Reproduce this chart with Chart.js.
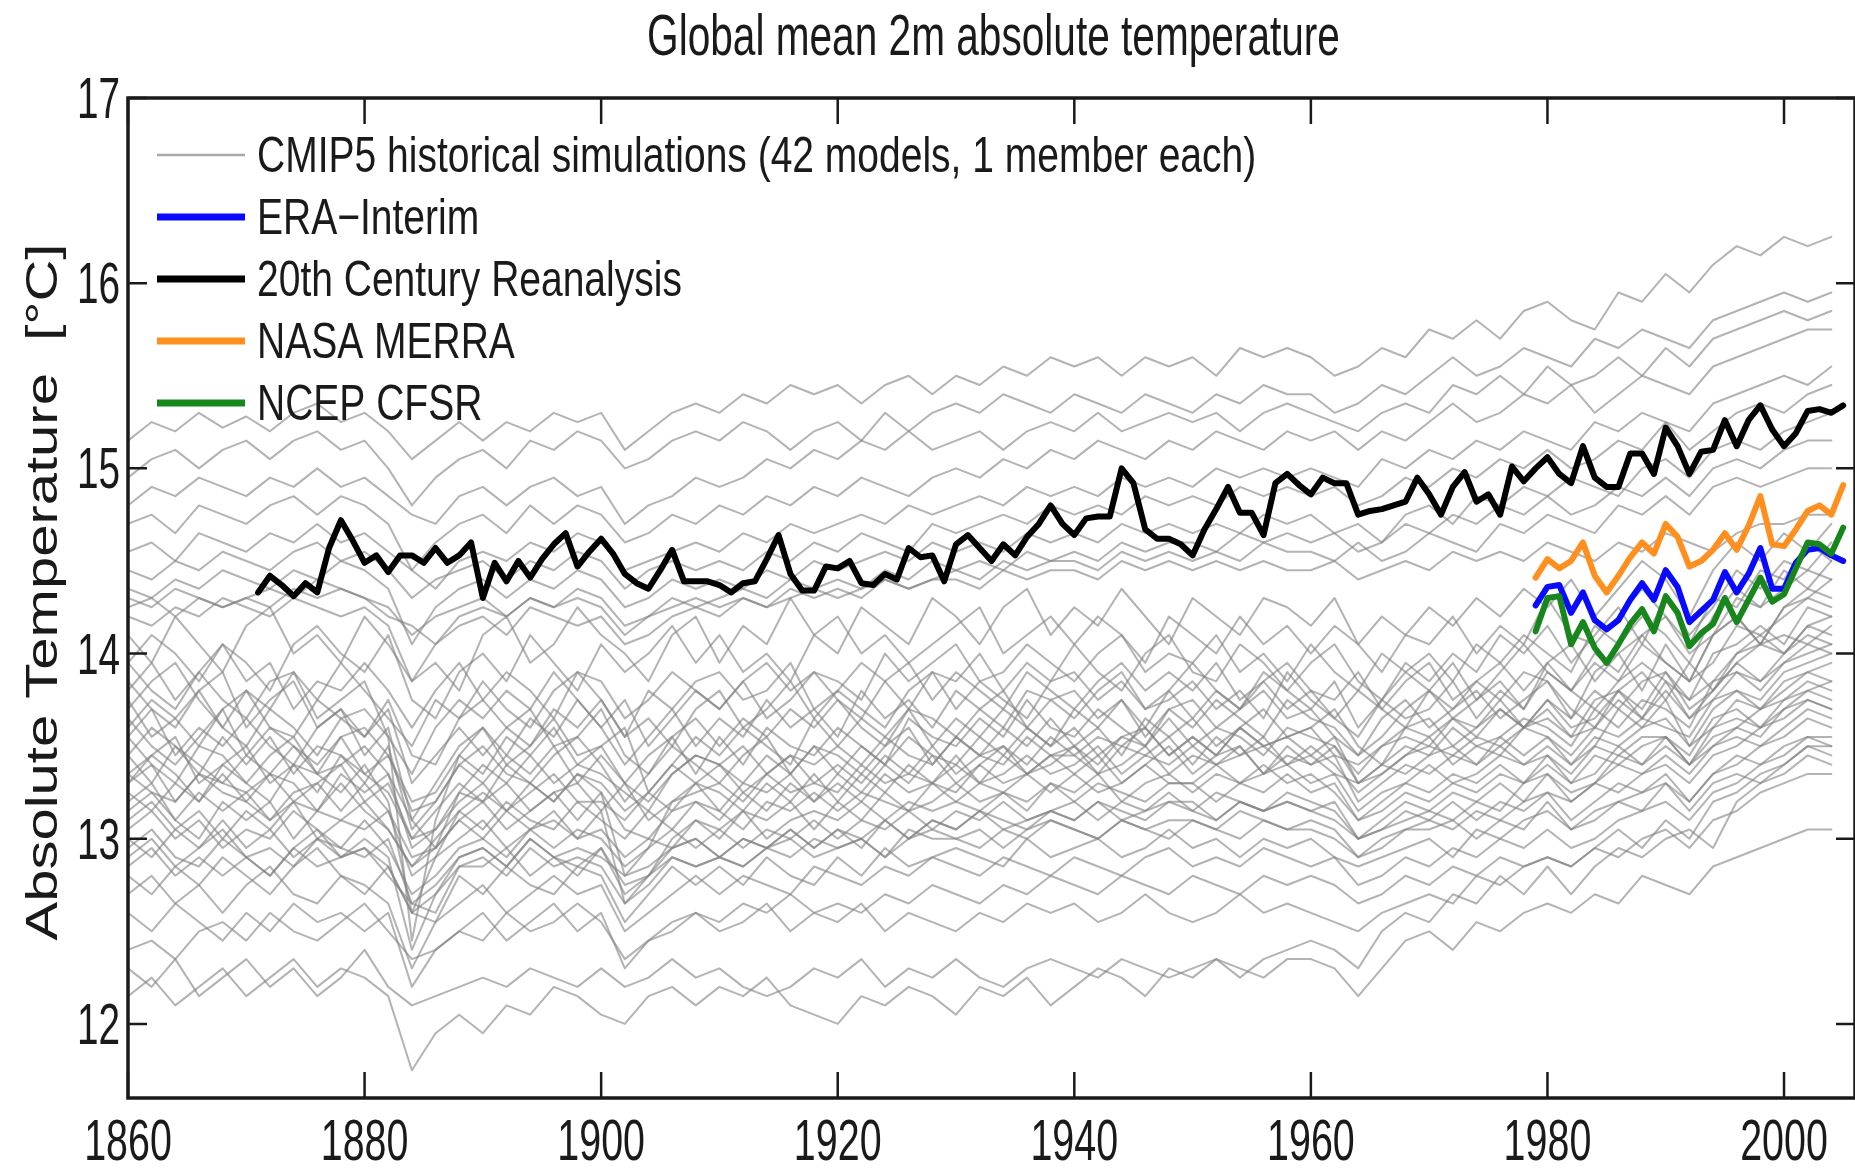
<!DOCTYPE html>
<html>
<head>
<meta charset="utf-8">
<title>Global mean 2m absolute temperature</title>
<script src="https://cdn.jsdelivr.net/npm/chart.js"></script>
<style>
  html, body { margin: 0; padding: 0; background: #ffffff; }
  #wrap { width: 1855px; height: 1169px; }
</style>
</head>
<body>
<div id="wrap"><canvas id="tempChart" width="1855" height="1169"></canvas></div>
<script>
// ---- years -------------------------------------------------------------
function yearRange(first, last, step) {
    const out = [];
    for (let y = first; y <= last; y += step) out.push(y);
    return out;
}
const cmipYears = yearRange(1860, 2004, 2);   // model runs, every other year
const twcrYears = yearRange(1871, 2005, 1);   // 20th Century Reanalysis
const satYears = yearRange(1979, 2005, 1);    // satellite-era reanalyses

// ---- reanalyses (deg C) ------------------------------------------------
const twcr = [
    14.33, 14.42, 14.37, 14.31, 14.38, 14.33, 14.57, 14.72, 14.61, 14.49,
    14.53, 14.44, 14.53, 14.53, 14.49, 14.57, 14.49, 14.53, 14.60, 14.30,
    14.49, 14.39, 14.50, 14.41, 14.51, 14.59, 14.65, 14.47, 14.55, 14.62,
    14.54, 14.43, 14.38, 14.35, 14.45, 14.56, 14.39, 14.39, 14.39, 14.37,
    14.33, 14.38, 14.39, 14.51, 14.64, 14.43, 14.34, 14.34, 14.47, 14.46,
    14.50, 14.38, 14.37, 14.43, 14.40, 14.57, 14.52, 14.53, 14.39, 14.59,
    14.64, 14.57, 14.50, 14.59, 14.53, 14.63, 14.70, 14.80, 14.70, 14.64,
    14.73, 14.74, 14.74, 15.00, 14.92, 14.67, 14.62, 14.62, 14.59, 14.53,
    14.67, 14.78, 14.90, 14.76, 14.76, 14.64, 14.92, 14.97, 14.91, 14.86,
    14.95, 14.92, 14.92, 14.75, 14.77, 14.78, 14.80, 14.82, 14.95, 14.86,
    14.75, 14.90, 14.98, 14.82, 14.86, 14.75, 15.01, 14.93, 15.00, 15.06,
    14.97, 14.92, 15.12, 14.95, 14.90, 14.90, 15.08, 15.08, 14.97, 15.22,
    15.12, 14.97, 15.09, 15.10, 15.26, 15.12, 15.26, 15.34, 15.21, 15.12,
    15.19, 15.31, 15.32, 15.30, 15.34
];
const merra = [
    14.41, 14.51, 14.46, 14.50, 14.60, 14.42, 14.33, 14.42, 14.52, 14.60,
    14.54, 14.70, 14.63, 14.47, 14.50, 14.56, 14.65, 14.56, 14.69, 14.85,
    14.59, 14.58, 14.67, 14.77, 14.80, 14.75, 14.91
];
const eraInterim = [
    14.26, 14.36, 14.37, 14.22, 14.33, 14.18, 14.13, 14.18, 14.29, 14.38,
    14.29, 14.45, 14.36, 14.17, 14.23, 14.29, 14.44, 14.33, 14.43, 14.57,
    14.35, 14.35, 14.49, 14.56, 14.57, 14.53, 14.50
];
const cfsr = [
    14.12, 14.30, 14.31, 14.05, 14.17, 14.03, 13.95, 14.05, 14.16, 14.24,
    14.12, 14.31, 14.22, 14.04, 14.11, 14.16, 14.30, 14.17, 14.29, 14.41,
    14.28, 14.32, 14.46, 14.60, 14.59, 14.54, 14.68
];

// ---- CMIP5 historical runs (deg C, 1860-2004 every 2 years) -------------
const cmip01 = [15.15,15.25,15.2,15.3,15.22, 15.28,15.2,15.3,15.35,15.25, 15.3,15.2,15.05,15.15,15.25, 15.15,15.25,15.2,15.3,15.25, 15.3,15.1,15.2,15.3,15.35,
    15.3,15.4,15.35,15.45,15.4, 15.45,15.35,15.45,15.5,15.4, 15.5,15.45,15.55,15.5,15.6, 15.55,15.6,15.5,15.6,15.55, 15.6,15.5,15.65,15.6,15.65,
    15.6,15.5,15.55,15.65,15.6, 15.75,15.7,15.8,15.7,15.85, 15.9,15.8,15.75,15.95,15.9, 16.05,15.95,16.1,16.2,16.15, 16.25,16.2,16.25];
const cmip02 = [14.95,15.05,15.1,15.0,15.1, 15.15,15.05,15.15,15.2,15.1, 15.15,15.0,14.8,14.95,15.05, 15.1,15.0,15.15,15.1,15.2, 15.15,15.0,15.05,15.15,15.2,
    15.15,15.25,15.2,15.1,15.2, 15.25,15.15,15.3,15.2,15.3, 15.35,15.3,15.4,15.35,15.3, 15.4,15.35,15.3,15.4,15.35, 15.3,15.4,15.35,15.45,15.4,
    15.4,15.3,15.35,15.45,15.4, 15.5,15.6,15.5,15.55,15.65, 15.6,15.55,15.7,15.65,15.75, 15.7,15.65,15.8,15.85,15.9, 15.95,15.9,15.95];
const cmip03 = [14.8,14.9,14.85,14.95,14.9, 14.85,14.95,14.9,15.0,14.9, 14.95,14.85,14.75,14.7,14.85, 14.9,14.8,14.9,14.95,14.85, 14.9,14.7,14.8,14.85,14.95,
    14.9,14.95,15.05,15.0,15.1, 15.05,15.15,15.1,15.2,15.1, 15.15,15.2,15.1,15.2,15.25, 15.2,15.3,15.2,15.25,15.3, 15.25,15.3,15.2,15.3,15.35,
    15.3,15.25,15.2,15.3,15.35, 15.3,15.45,15.4,15.5,15.4, 15.55,15.45,15.5,15.6,15.5, 15.65,15.55,15.7,15.75,15.8, 15.85,15.8,15.85];
const cmip04 = [14.7,14.75,14.65,14.8,14.75, 14.7,14.8,14.85,14.75,14.85, 14.8,14.7,14.45,14.6,14.7, 14.75,14.65,14.8,14.7,14.8, 14.75,14.6,14.65,14.75,14.7,
    14.8,14.75,14.85,14.8,14.9, 14.85,14.95,14.9,14.85,14.95, 15.0,14.95,15.05,15.0,15.1, 15.05,15.15,15.1,15.05,15.15, 15.1,15.2,15.15,15.1,15.2,
    15.15,15.2,15.1,15.2,15.15, 15.25,15.35,15.25,15.3,15.4, 15.35,15.45,15.3,15.4,15.5, 15.45,15.4,15.55,15.6,15.65, 15.7,15.75,15.75];
const cmip05 = [14.55,14.6,14.5,14.65,14.6, 14.55,14.65,14.6,14.7,14.6, 14.65,14.55,14.45,14.35,14.5, 14.55,14.5,14.6,14.55,14.65, 14.6,14.45,14.5,14.55,14.6,
    14.55,14.65,14.6,14.7,14.65, 14.7,14.75,14.7,14.8,14.75, 14.8,14.85,14.8,14.9,14.85, 14.9,14.85,14.95,14.9,14.95, 14.9,15.0,14.95,15.0,14.95,
    15.0,14.95,14.9,15.05,15.0, 15.1,15.05,15.15,15.1,15.2, 15.15,15.1,15.25,15.2,15.3, 15.25,15.2,15.35,15.4,15.45, 15.5,15.45,15.55];
const cmip06 = [14.45,14.4,14.5,14.45,14.55, 14.5,14.45,14.55,14.6,14.5, 14.55,14.45,14.3,14.4,14.45, 14.5,14.4,14.5,14.45,14.55, 14.5,14.35,14.45,14.5,14.45,
    14.5,14.45,14.55,14.5,14.6, 14.55,14.65,14.6,14.55,14.7, 14.65,14.7,14.75,14.7,14.8, 14.75,14.8,14.75,14.85,14.8, 14.85,14.8,14.9,14.85,14.9,
    14.85,14.9,14.8,14.85,14.95, 14.9,15.0,14.95,15.05,15.0, 15.1,15.0,15.05,15.15,15.1, 15.25,15.1,15.2,15.3,15.35, 15.3,15.4,15.45];
const cmip07 = [14.35,14.3,14.4,14.35,14.45, 14.4,14.35,14.45,14.4,14.5, 14.45,14.35,14.05,14.25,14.35, 14.4,14.3,14.4,14.35,14.45, 14.4,14.25,14.3,14.4,14.35,
    14.4,14.35,14.45,14.4,14.5, 14.45,14.5,14.55,14.5,14.6, 14.55,14.6,14.55,14.65,14.6, 14.65,14.6,14.7,14.65,14.7, 14.65,14.7,14.65,14.75,14.7,
    14.75,14.65,14.7,14.6,14.75, 14.8,14.7,14.85,14.8,14.9, 14.85,14.95,14.9,14.85,15.0, 15.05,14.95,15.1,15.15,15.1, 15.2,15.25,15.3];
const cmip08 = [14.25,14.3,14.2,14.3,14.25, 14.3,14.25,14.35,14.3,14.35, 14.3,14.25,14.1,14.2,14.25, 14.3,14.2,14.3,14.25,14.35, 14.3,14.15,14.2,14.3,14.25,
    14.3,14.35,14.3,14.4,14.35, 14.4,14.35,14.45,14.4,14.5, 14.45,14.5,14.45,14.55,14.5, 14.55,14.5,14.6,14.55,14.6, 14.6,14.55,14.65,14.6,14.65,
    14.6,14.65,14.55,14.6,14.7, 14.65,14.75,14.7,14.8,14.75, 14.85,14.75,14.8,14.9,14.85, 14.95,14.85,15.0,15.05,15.0, 15.1,15.15,15.15];
const cmip09 = [14.2,14.15,14.25,14.2,14.3, 14.25,14.2,14.3,14.25,14.2, 14.25,14.15,13.85,14.05,14.15, 14.2,14.1,14.25,14.2,14.15, 14.2,14.05,14.1,14.2,14.25,
    14.2,14.3,14.25,14.3,14.35, 14.3,14.35,14.4,14.35,14.4, 14.45,14.4,14.5,14.45,14.5, 14.5,14.45,14.55,14.5,14.55, 14.5,14.55,14.5,14.6,14.55,
    14.55,14.5,14.6,14.5,14.55, 14.65,14.6,14.55,14.7,14.65, 14.75,14.7,14.65,14.8,14.75, 14.85,14.75,14.9,14.95,14.9, 14.95,15.0,15.0];
const cmip10 = [14.3,14.25,14.35,14.3,14.25, 14.3,14.35,14.3,14.4,14.35, 14.3,14.2,14.15,14.05,14.2, 14.25,14.2,14.3,14.25,14.3, 14.25,14.1,14.2,14.25,14.3,
    14.25,14.3,14.25,14.35,14.3, 14.35,14.3,14.4,14.35,14.4, 14.4,14.35,14.45,14.4,14.45, 14.45,14.4,14.5,14.45,14.5, 14.45,14.5,14.45,14.5,14.45,
    14.45,14.5,14.4,14.45,14.5, 14.45,14.55,14.5,14.55,14.5, 14.6,14.55,14.5,14.6,14.55, 14.65,14.6,14.55,14.65,14.7, 14.7,14.75,14.75];
const cmip11 = [14.1,13.95,14.2,14.05,13.9, 14.15,14.25,14.0,14.1,13.95, 14.2,14.05,13.85,13.95,13.8, 14.1,14.2,13.95,14.05,14.25, 14.1,14.0,13.85,14.1,14.2,
    13.95,14.15,14.05,14.3,14.1, 14.0,14.25,14.15,14.05,14.3, 14.2,14.05,14.25,14.35,14.1, 14.25,14.15,14.35,14.2,14.05, 14.3,14.2,14.1,14.3,14.25,
    14.15,14.3,14.05,14.2,14.1, 14.25,14.15,14.3,14.2,14.35, 14.25,14.4,14.2,14.35,14.5, 14.4,14.2,14.45,14.6,14.5, 14.65,14.55,14.7];
const cmip12 = [13.95,14.1,14.0,13.85,14.05, 13.95,13.8,14.05,14.15,14.0, 13.9,14.1,13.75,13.65,13.9, 14.0,13.85,14.1,13.95,13.8, 14.05,13.9,14.0,14.15,13.95,
    14.1,13.9,14.0,13.85,14.1, 14.2,14.0,14.1,13.95,14.05, 14.15,14.25,14.0,14.1,14.2, 14.05,14.2,14.1,13.95,14.2, 14.1,14.0,14.2,14.05,14.15,
    14.0,14.15,14.05,13.9,14.1, 14.05,14.2,14.0,14.15,14.05, 14.3,14.1,14.05,14.2,14.35, 14.2,14.05,14.3,14.25,14.45, 14.4,14.6,14.5];
const cmip13 = [13.8,13.95,13.75,13.9,14.05, 13.85,13.95,13.7,13.85,13.8, 13.95,13.8,13.6,13.8,13.95, 13.75,13.9,13.8,13.65,13.9, 13.85,13.65,13.75,13.9,13.8,
    13.7,13.85,13.95,13.8,13.9, 13.85,13.75,14.0,13.85,13.95, 14.05,13.85,13.9,14.05,13.95, 13.85,14.0,14.1,13.9,14.0, 13.95,14.1,13.9,14.0,13.85,
    14.05,13.9,13.8,14.0,13.9, 14.0,13.85,14.05,13.95,14.1, 14.0,13.9,14.15,14.05,14.2, 14.1,13.95,14.2,14.35,14.25, 14.45,14.35,14.5];
const cmip14 = [13.95,13.8,13.7,13.9,13.75, 13.65,13.85,13.9,13.75,13.95, 13.8,13.65,13.5,13.75,13.65, 13.85,13.7,13.6,13.8,13.9, 13.75,13.55,13.8,13.7,13.85,
    13.9,13.75,13.8,13.95,13.7, 13.8,13.95,13.85,13.7,13.9, 13.85,14.0,13.8,13.95,13.85, 14.05,13.9,13.8,14.0,14.1, 13.9,13.85,14.05,13.95,13.8,
    13.95,14.05,13.85,13.75,13.95, 13.85,14.0,13.9,14.1,14.0, 14.15,13.95,14.1,14.25,14.05, 14.3,14.1,14.25,14.45,14.35, 14.5,14.45,14.6];
const cmip15 = [13.7,13.85,13.95,13.75,13.6, 13.8,13.7,13.9,13.65,13.75, 13.85,13.55,13.35,13.6,13.75, 13.65,13.8,13.7,13.9,13.75, 13.6,13.75,13.5,13.65,13.8,
    13.7,13.85,13.65,13.75,13.9, 13.75,13.65,13.85,13.95,13.75, 13.9,13.8,13.7,13.9,13.8, 13.7,13.85,13.95,13.8,13.9, 13.8,13.95,13.75,13.85,13.95,
    13.8,13.75,13.9,13.7,13.85, 13.95,13.75,13.85,13.95,13.8, 13.95,14.05,13.85,14.0,14.1, 13.95,13.85,14.1,14.2,14.05, 14.25,14.3,14.4];
const cmip16 = [13.85,13.7,13.6,13.8,13.9, 13.6,13.75,13.85,13.6,13.7, 13.55,13.75,13.45,13.4,13.65, 13.75,13.6,13.5,13.7,13.6, 13.75,13.55,13.65,13.5,13.7,
    13.8,13.6,13.7,13.85,13.65, 13.8,13.7,13.6,13.8,13.9, 13.7,13.85,13.75,13.65,13.85, 13.9,13.75,13.85,13.7,13.8, 13.95,13.8,13.7,13.9,13.8,
    13.7,13.85,13.6,13.75,13.9, 13.8,13.95,13.75,13.9,14.05, 13.9,13.8,14.0,13.9,14.1, 14.2,14.0,14.1,14.3,14.25, 14.35,14.45,14.4];
const cmip17 = [13.6,13.75,13.65,13.5,13.7, 13.8,13.6,13.55,13.75,13.65, 13.7,13.55,12.45,13.1,13.45, 13.6,13.45,13.65,13.55,13.75, 13.6,13.4,13.55,13.7,13.5,
    13.65,13.55,13.75,13.6,13.7, 13.55,13.8,13.65,13.75,13.6, 13.8,13.7,13.6,13.8,13.75, 13.65,13.8,13.9,13.7,13.75, 13.85,13.7,13.8,13.65,13.9,
    13.75,13.65,13.8,13.7,13.6, 13.8,13.7,13.85,13.75,13.9, 13.85,13.65,13.9,14.0,13.8, 14.05,13.85,13.95,14.15,14.1, 14.2,14.3,14.25];
const cmip18 = [13.75,13.55,13.65,13.8,13.6, 13.5,13.7,13.6,13.45,13.65, 13.55,13.7,13.3,13.45,13.6, 13.45,13.6,13.7,13.5,13.55, 13.7,13.45,13.35,13.55,13.65,
    13.5,13.65,13.55,13.7,13.6, 13.75,13.6,13.5,13.7,13.65, 13.55,13.7,13.8,13.6,13.75, 13.8,13.65,13.75,13.6,13.8, 13.65,13.8,13.7,13.85,13.7,
    13.8,13.65,13.55,13.75,13.65, 13.7,13.85,13.65,13.8,13.7, 13.95,13.8,13.7,13.85,13.95, 13.85,13.75,14.0,14.05,14.15, 14.05,14.25,14.2];
const cmip19 = [13.55,13.7,13.45,13.6,13.5, 13.65,13.5,13.4,13.6,13.7, 13.45,13.6,13.1,13.3,13.5, 13.6,13.4,13.5,13.65,13.45, 13.5,13.6,13.25,13.4,13.55,
    13.45,13.6,13.5,13.4,13.65, 13.5,13.65,13.55,13.7,13.5, 13.65,13.55,13.7,13.6,13.5, 13.7,13.6,13.75,13.55,13.7, 13.75,13.6,13.7,13.8,13.65,
    13.7,13.55,13.45,13.65,13.75, 13.6,13.7,13.8,13.65,13.75, 13.85,13.7,13.6,13.8,13.9, 13.75,13.95,13.8,14.0,14.1, 14.0,14.15,14.2];
const cmip20 = [13.65,13.5,13.4,13.55,13.7, 13.45,13.6,13.5,13.35,13.55, 13.6,13.45,13.2,13.25,13.45, 13.35,13.55,13.45,13.6,13.4, 13.5,13.3,13.45,13.55,13.35,
    13.55,13.4,13.6,13.5,13.45, 13.6,13.5,13.4,13.65,13.55, 13.5,13.65,13.55,13.75,13.6, 13.55,13.7,13.6,13.5,13.7, 13.6,13.75,13.65,13.55,13.75,
    13.65,13.6,13.45,13.55,13.7, 13.8,13.65,13.75,13.85,13.7, 13.9,13.8,13.95,13.85,14.05, 13.95,13.85,14.1,14.2,14.05, 14.25,14.35,14.3];
const cmip21 = [13.45,13.6,13.5,13.35,13.55, 13.4,13.55,13.35,13.5,13.45, 13.3,13.5,13.05,13.2,13.4, 13.5,13.35,13.3,13.45,13.55, 13.4,13.2,13.35,13.5,13.4,
    13.3,13.45,13.55,13.35,13.5, 13.45,13.35,13.5,13.6,13.4, 13.55,13.45,13.6,13.5,13.65, 13.5,13.6,13.45,13.65,13.55, 13.65,13.5,13.6,13.7,13.55,
    13.6,13.7,13.5,13.4,13.6, 13.55,13.65,13.6,13.75,13.6, 13.7,13.55,13.75,13.8,13.65, 13.85,13.65,13.8,13.95,13.85, 14.0,14.1,14.05];
const cmip22 = [13.55,13.4,13.3,13.5,13.45, 13.3,13.45,13.55,13.35,13.4, 13.5,13.35,13.1,12.95,13.25, 13.4,13.3,13.45,13.3,13.4, 13.35,13.25,13.15,13.35,13.45,
    13.4,13.3,13.45,13.35,13.5, 13.35,13.5,13.4,13.55,13.45, 13.4,13.55,13.45,13.6,13.5, 13.6,13.45,13.55,13.5,13.65, 13.5,13.6,13.55,13.45,13.6,
    13.55,13.5,13.35,13.5,13.6, 13.65,13.5,13.6,13.7,13.6, 13.75,13.6,13.65,13.8,13.7, 13.9,13.7,13.8,13.95,14.05, 14.0,14.15,14.1];
const cmip23 = [13.35,13.45,13.55,13.3,13.4, 13.5,13.3,13.4,13.25,13.45, 13.35,13.25,13.0,13.15,13.3, 13.2,13.4,13.3,13.2,13.35, 13.3,13.15,13.25,13.4,13.3,
    13.4,13.25,13.35,13.45,13.3, 13.4,13.3,13.45,13.35,13.5, 13.35,13.45,13.4,13.55,13.45, 13.5,13.4,13.55,13.6,13.45, 13.55,13.45,13.6,13.5,13.55,
    13.45,13.55,13.3,13.4,13.5, 13.45,13.6,13.5,13.55,13.65, 13.6,13.5,13.7,13.6,13.75, 13.7,13.6,13.85,13.9,13.8, 13.95,14.05,14.0];
const cmip24 = [13.3,13.45,13.35,13.2,13.4, 13.3,13.2,13.4,13.35,13.25, 13.4,13.2,12.6,12.9,13.15, 13.25,13.15,13.3,13.2,13.35, 13.25,12.8,12.95,13.2,13.3,
    13.15,13.3,13.25,13.35,13.2, 13.35,13.25,13.4,13.3,13.45, 13.3,13.4,13.5,13.35,13.45, 13.45,13.35,13.5,13.45,13.55, 13.4,13.55,13.45,13.5,13.4,
    13.5,13.4,13.25,13.35,13.45, 13.55,13.4,13.5,13.45,13.6, 13.55,13.4,13.5,13.7,13.6, 13.75,13.5,13.7,13.8,13.75, 13.9,13.95,14.0];
const cmip25 = [13.45,13.3,13.5,13.4,13.3, 13.45,13.35,13.5,13.4,13.55, 13.35,13.45,13.15,13.2,13.4, 13.3,13.45,13.35,13.5,13.3, 13.45,13.3,13.2,13.35,13.45,
    13.4,13.5,13.35,13.45,13.4, 13.5,13.4,13.55,13.45,13.4, 13.55,13.45,13.5,13.4,13.55, 13.45,13.55,13.5,13.6,13.45, 13.55,13.45,13.6,13.5,13.55,
    13.6,13.45,13.4,13.5,13.55, 13.5,13.65,13.55,13.7,13.6, 13.75,13.65,13.8,13.7,13.85, 13.9,13.75,13.85,14.0,14.05, 14.1,14.05,14.15];
const cmip26 = [13.3,13.4,13.2,13.35,13.25, 13.2,13.35,13.3,13.15,13.35, 13.25,13.35,12.95,13.05,13.2, 13.3,13.15,13.25,13.35,13.2, 13.2,13.1,13.25,13.15,13.3,
    13.25,13.15,13.3,13.2,13.35, 13.2,13.35,13.25,13.4,13.3, 13.45,13.3,13.35,13.45,13.35, 13.4,13.5,13.35,13.45,13.4, 13.5,13.4,13.45,13.55,13.4,
    13.45,13.35,13.3,13.4,13.35, 13.45,13.5,13.4,13.55,13.45, 13.55,13.45,13.6,13.55,13.65, 13.6,13.55,13.75,13.8,13.7, 13.85,13.9,13.95];
const cmip27 = [13.25,13.15,13.3,13.2,13.35, 13.2,13.1,13.25,13.3,13.15, 13.3,13.15,12.9,12.95,13.1, 13.2,13.05,13.15,13.25,13.1, 13.25,13.05,13.0,13.15,13.2,
    13.1,13.25,13.15,13.3,13.2, 13.3,13.2,13.35,13.25,13.3, 13.25,13.4,13.3,13.35,13.45, 13.35,13.45,13.3,13.4,13.5, 13.35,13.45,13.5,13.35,13.45,
    13.4,13.45,13.2,13.3,13.4, 13.35,13.45,13.4,13.5,13.4, 13.5,13.4,13.55,13.5,13.6, 13.65,13.5,13.6,13.75,13.7, 13.8,13.9,13.85];
const cmip28 = [13.35,13.25,13.2,13.35,13.3, 13.25,13.35,13.2,13.3,13.4, 13.2,13.3,13.0,13.05,13.25, 13.2,13.3,13.15,13.25,13.3, 13.15,13.3,13.1,13.2,13.25,
    13.3,13.2,13.35,13.25,13.3, 13.25,13.4,13.3,13.35,13.3, 13.4,13.3,13.45,13.35,13.4, 13.5,13.35,13.4,13.5,13.35, 13.45,13.4,13.5,13.35,13.5,
    13.4,13.5,13.3,13.35,13.45, 13.5,13.45,13.55,13.5,13.6, 13.65,13.55,13.6,13.75,13.65, 13.8,13.65,13.75,13.9,13.85, 13.95,14.0,14.05];
const cmip29 = [13.2,13.3,13.1,13.25,13.15, 13.25,13.1,13.2,13.15,13.3, 13.15,13.05,12.85,13.0,13.15, 13.05,13.2,13.1,13.05,13.2, 13.1,13.0,13.15,13.05,13.2,
    13.15,13.05,13.2,13.15,13.25, 13.15,13.25,13.2,13.15,13.3, 13.2,13.3,13.25,13.35,13.25, 13.35,13.25,13.3,13.4,13.3, 13.3,13.4,13.3,13.35,13.4,
    13.3,13.35,13.15,13.25,13.3, 13.4,13.3,13.35,13.45,13.4, 13.45,13.35,13.5,13.45,13.55, 13.55,13.45,13.65,13.7,13.6, 13.75,13.85,13.8];
const cmip30 = [13.15,13.25,13.1,13.0,13.2, 13.1,13.2,13.0,13.15,13.1, 13.2,13.05,12.85,12.95,13.1, 13.0,13.15,13.05,13.1,13.0, 13.15,12.65,12.8,13.0,13.1,
    13.0,13.15,13.1,13.2,13.05, 13.2,13.1,13.25,13.15,13.2, 13.3,13.2,13.25,13.15,13.3, 13.25,13.35,13.2,13.3,13.35, 13.25,13.35,13.3,13.4,13.3,
    13.35,13.25,13.1,13.2,13.3, 13.25,13.35,13.3,13.4,13.3, 13.45,13.3,13.35,13.5,13.4, 13.55,13.4,13.5,13.6,13.55, 13.7,13.75,13.7];
const cmip31 = [13.1,13.2,13.05,13.15,13.0, 13.15,13.05,13.2,13.0,13.1, 13.05,13.15,12.8,12.9,13.0, 13.1,12.95,13.05,13.15,13.0, 13.05,12.9,13.0,12.95,13.1,
    13.05,13.15,13.0,13.1,13.15, 13.1,13.2,13.1,13.2,13.15, 13.2,13.15,13.25,13.2,13.3, 13.2,13.3,13.25,13.2,13.3, 13.3,13.2,13.3,13.25,13.35,
    13.25,13.3,13.1,13.15,13.25, 13.2,13.3,13.25,13.35,13.3, 13.4,13.3,13.45,13.4,13.5, 13.55,13.4,13.6,13.65,13.6, 13.7,13.8,13.75];
const cmip32 = [13.05,13.15,13.0,13.1,12.95, 13.05,13.0,13.15,13.05,12.95, 13.1,12.95,12.7,12.8,12.95, 13.0,12.9,13.05,12.95,13.05, 13.0,12.85,12.95,13.05,12.95,
    13.05,12.95,13.05,13.0,13.1, 13.0,13.1,13.05,13.15,13.05, 13.15,13.1,13.2,13.1,13.15, 13.2,13.1,13.2,13.15,13.25, 13.15,13.25,13.2,13.15,13.25,
    13.2,13.15,13.0,13.1,13.2, 13.15,13.25,13.2,13.3,13.2, 13.35,13.2,13.3,13.4,13.35, 13.45,13.35,13.5,13.55,13.5, 13.6,13.7,13.65];
const cmip33 = [13.0,12.9,13.05,12.95,13.1, 12.95,13.05,12.9,13.0,12.95, 12.9,13.0,12.65,12.75,12.9, 12.95,12.85,13.0,12.9,12.95, 12.9,12.8,12.85,12.95,13.0,
    12.9,13.0,12.95,13.05,12.95, 13.05,13.0,13.1,13.0,13.1, 13.05,13.15,13.1,13.05,13.15, 13.1,13.2,13.15,13.1,13.2, 13.2,13.1,13.2,13.15,13.2,
    13.15,13.2,13.0,13.05,13.15, 13.1,13.2,13.1,13.2,13.15, 13.25,13.1,13.2,13.3,13.25, 13.35,13.2,13.35,13.45,13.4, 13.5,13.55,13.55];
const cmip34 = [12.95,13.05,12.9,12.85,13.0, 12.9,12.95,12.85,13.0,12.9, 12.95,12.85,12.6,12.7,12.85, 12.85,12.95,12.8,12.9,12.85, 12.95,12.75,12.8,12.9,12.85,
    12.9,12.85,12.95,12.9,13.0, 12.95,13.0,12.9,13.05,13.0, 13.0,13.05,12.95,13.05,13.1, 13.05,13.0,13.1,13.05,13.1, 13.1,13.05,13.15,13.1,13.05,
    13.1,13.05,12.9,13.0,13.05, 13.05,13.1,13.0,13.1,13.05, 13.2,13.05,13.15,13.2,13.15, 13.3,13.15,13.3,13.35,13.3, 13.4,13.5,13.5];
const cmip35 = [12.15,12.25,12.1,12.2,12.3, 12.15,12.25,12.35,12.2,12.3, 12.25,12.15,11.75,11.95,12.05, 11.95,12.1,12.05,12.2,12.15, 12.05,12.0,12.15,12.2,12.1,
    12.2,12.15,12.25,12.1,12.05, 12.0,12.15,12.1,12.2,12.15, 12.05,12.2,12.15,12.25,12.1, 12.2,12.3,12.25,12.15,12.3, 12.25,12.35,12.3,12.25,12.35,
    12.35,12.3,12.15,12.3,12.45, 12.5,12.4,12.55,12.5,12.6, 12.65,12.6,12.7,12.65,12.8, 12.75,12.7,12.85,12.9,12.95, 13.0,13.05,13.05];
const cmip36 = [12.3,12.2,12.35,12.15,12.25, 12.35,12.2,12.3,12.15,12.25, 12.4,12.2,12.1,12.15,12.2, 12.25,12.2,12.3,12.25,12.2, 12.3,12.2,12.25,12.35,12.25,
    12.3,12.2,12.15,12.2,12.3, 12.25,12.35,12.2,12.3,12.25, 12.35,12.25,12.2,12.3,12.35, 12.3,12.25,12.35,12.3,12.25, 12.3,12.35,12.25,12.35,12.4,
    12.45,12.4,12.3,12.5,12.6, 12.55,12.7,12.65,12.8,12.7, 12.85,12.7,12.85,12.95,12.9, 13.0,13.05,12.95,13.2,13.3, 13.35,13.45,13.4];
const cmip37 = [12.4,12.45,12.35,12.5,12.55, 12.45,12.6,12.5,12.45,12.55, 12.65,12.5,12.35,12.4,12.5, 12.45,12.6,12.5,12.55,12.65, 12.55,12.35,12.45,12.5,12.6,
    12.5,12.55,12.65,12.5,12.6, 12.55,12.65,12.5,12.6,12.55, 12.5,12.6,12.55,12.65,12.6, 12.65,12.55,12.6,12.7,12.6, 12.55,12.6,12.7,12.6,12.65,
    12.6,12.55,12.5,12.6,12.65, 12.7,12.65,12.8,12.75,12.85, 12.9,12.85,12.95,13.05,12.95, 13.1,13.0,13.2,13.25,13.35, 13.4,13.5,13.45];
const cmip38 = [12.7,12.8,12.65,12.75,12.6, 12.75,12.85,12.7,12.65,12.8, 12.75,12.65,12.3,12.55,12.65, 12.75,12.6,12.7,12.8,12.7, 12.75,12.5,12.6,12.7,12.8,
    12.7,12.8,12.75,12.7,12.85, 12.8,12.75,12.85,12.8,12.9, 12.85,12.8,12.9,12.85,12.8, 12.9,12.85,12.8,12.9,12.95, 12.85,12.9,12.85,12.95,12.9,
    12.85,12.9,12.75,12.8,12.9, 12.85,12.95,12.9,13.0,12.95, 13.05,12.95,13.0,13.1,13.15, 13.2,13.1,13.25,13.3,13.4, 13.45,13.55,13.5];
const cmip39 = [12.8,12.7,12.85,12.75,12.9, 12.8,12.7,12.85,12.95,12.8, 12.7,12.85,12.6,12.55,12.8, 12.7,12.85,12.75,12.7,12.85, 12.8,12.55,12.7,12.85,12.75,
    12.85,12.75,12.9,12.8,12.75, 12.9,12.8,12.95,12.85,12.9, 12.95,12.9,12.85,13.0,12.9, 12.95,13.0,12.9,12.95,13.05, 12.95,13.0,12.9,13.0,12.95,
    13.0,12.9,12.85,12.9,12.95, 13.0,12.9,13.05,13.0,13.1, 13.15,13.05,13.1,13.2,13.25, 13.3,13.2,13.35,13.4,13.5, 13.55,13.65,13.6];
const cmip40 = [12.85,12.95,12.8,12.9,12.8, 12.9,12.8,12.95,12.85,12.9, 12.95,12.8,12.65,12.6,12.85, 12.9,12.8,12.95,12.85,12.9, 12.85,12.65,12.75,12.9,12.85,
    12.9,12.85,12.95,13.0,12.9, 12.95,13.0,12.9,13.0,13.05, 13.0,12.95,13.05,13.0,13.1, 13.05,13.0,13.1,13.05,13.0, 13.1,13.05,13.0,13.1,13.05,
    13.05,13.0,12.9,12.95,13.05, 13.1,13.05,13.15,13.1,13.2, 13.25,13.2,13.3,13.25,13.35, 13.4,13.3,13.45,13.5,13.6, 13.65,13.75,13.7];
const cmip41 = [12.6,12.5,12.65,12.55,12.45, 12.6,12.5,12.65,12.55,12.6, 12.5,12.6,12.2,12.4,12.5, 12.6,12.45,12.55,12.65,12.5, 12.6,12.3,12.45,12.55,12.6,
    12.55,12.65,12.6,12.7,12.6, 12.65,12.6,12.7,12.65,12.75, 12.7,12.65,12.75,12.7,12.8, 12.75,12.7,12.8,12.75,12.7, 12.8,12.75,12.7,12.8,12.75,
    12.8,12.75,12.65,12.7,12.8, 12.75,12.85,12.8,12.9,12.85, 12.9,12.85,12.95,12.9,13.0, 13.05,12.95,13.1,13.15,13.25, 13.3,13.35,13.35];
const cmip42 = [12.9,13.0,12.85,12.95,13.05, 12.9,12.8,12.95,13.05,12.9, 13.0,12.9,12.4,12.7,12.9, 12.95,12.85,13.0,12.9,12.8, 12.95,12.7,12.8,12.95,13.0,
    12.9,13.0,12.95,13.05,12.95, 13.05,12.95,13.1,13.0,13.1, 13.05,13.15,13.05,13.1,13.15, 13.1,13.2,13.1,13.15,13.2, 13.15,13.1,13.2,13.15,13.2,
    13.15,13.1,13.0,13.05,13.1, 13.15,13.1,13.2,13.15,13.3, 13.35,13.25,13.3,13.45,13.4, 13.5,13.4,13.55,13.6,13.7, 13.75,13.8,13.85];

const cmipRuns = [
    cmip01, cmip02, cmip03, cmip04, cmip05, cmip06, cmip07, cmip08, cmip09, cmip10,
    cmip11, cmip12, cmip13, cmip14, cmip15, cmip16, cmip17, cmip18, cmip19, cmip20,
    cmip21, cmip22, cmip23, cmip24, cmip25, cmip26, cmip27, cmip28, cmip29, cmip30,
    cmip31, cmip32, cmip33, cmip34, cmip35, cmip36, cmip37, cmip38, cmip39, cmip40,
    cmip41, cmip42
];

const xTicks = { min: 1860, max: 2006, step: 20 };
const yTicks = { min: 11.6, max: 17, step: 1 };

// ---- styling -------------------------------------------------------------
const SANS = '"Liberation Sans", Arial, Helvetica, sans-serif';
const INK = '#1a1a1a';
const BLUE = '#0a0aff';
const ORANGE = '#ff8f1f';
const GREEN = '#17861c';
const GREY = 'rgba(128,128,128,0.6)';

function series(label, years, values, color, width) {
    return {
        label: label,
        data: values.map((v, i) => ({ x: years[i], y: v })),
        borderColor: color,
        borderWidth: width,
        pointRadius: 0,
        tension: 0,
        fill: false,
        borderJoinStyle: 'round',
        borderCapStyle: 'round'
    };
}

const datasets = [
    series('NCEP CFSR', satYears, cfsr, GREEN, 6),
    series('NASA MERRA', satYears, merra, ORANGE, 6),
    series('20th Century Reanalysis', twcrYears, twcr, '#000000', 6),
    series('ERA\u2212Interim', satYears, eraInterim, BLUE, 6)
].concat(cmipRuns.map((run, i) => series('CMIP5 run ' + (i + 1), cmipYears, run, GREY, 2)));

const legendRows = [
    { text: 'CMIP5 historical simulations (42 models, 1 member each)', color: '#a9a9a9', width: 2.5 },
    { text: 'ERA\u2212Interim', color: BLUE, width: 7 },
    { text: '20th Century Reanalysis', color: '#000000', width: 7 },
    { text: 'NASA MERRA', color: ORANGE, width: 7 },
    { text: 'NCEP CFSR', color: GREEN, width: 7 }
];

// narrow lettering: regular face squeezed horizontally
function narrowText(ctx, text, x, y, size, squeeze, align) {
    ctx.save();
    ctx.translate(x, y);
    ctx.scale(squeeze, 1);
    ctx.font = size + 'px ' + SANS;
    ctx.textAlign = align;
    ctx.textBaseline = 'alphabetic';
    ctx.fillStyle = INK;
    ctx.fillText(text, 0, 0);
    ctx.restore();
}

// box around the plot with inward tick marks on all four sides
const boxAxes = {
    id: 'boxAxes',
    afterDatasetsDraw(chart) {
        const { ctx, chartArea: a, scales: { x, y } } = chart;
        ctx.save();
        ctx.strokeStyle = INK;
        ctx.lineWidth = 2.5;
        ctx.beginPath();
        x.ticks.forEach(t => {
            const px = x.getPixelForValue(t.value);
            ctx.moveTo(px, a.bottom); ctx.lineTo(px, a.bottom - 26);
            ctx.moveTo(px, a.top); ctx.lineTo(px, a.top + 26);
        });
        y.ticks.forEach(t => {
            const py = y.getPixelForValue(t.value);
            ctx.moveTo(a.left, py); ctx.lineTo(a.left + 19, py);
            ctx.moveTo(a.right, py); ctx.lineTo(a.right - 19, py);
        });
        ctx.stroke();
        ctx.lineWidth = 3.5;
        ctx.strokeRect(a.left, a.top, a.right - a.left, a.bottom - a.top);
        ctx.restore();
    }
};

// title, tick labels, axis label and the key inside the plot
const lettering = {
    id: 'lettering',
    afterDraw(chart) {
        const { ctx, chartArea: a, scales: { x, y } } = chart;
        narrowText(ctx, 'Global mean 2m absolute temperature', (a.left + a.right) / 2 + 2, 55, 58, 0.7, 'center');
        x.ticks.forEach(t => {
            narrowText(ctx, String(t.value), x.getPixelForValue(t.value), a.bottom + 62, 58, 0.68, 'center');
        });
        y.ticks.forEach(t => {
            narrowText(ctx, String(t.value), a.left - 8, y.getPixelForValue(t.value) + 20, 57, 0.68, 'right');
        });

        ctx.save();
        ctx.translate(57, 592);
        ctx.rotate(-Math.PI / 2);
        ctx.scale(1, 0.75);
        ctx.font = '58px ' + SANS;
        ctx.textAlign = 'center';
        ctx.textBaseline = 'alphabetic';
        ctx.fillStyle = INK;
        ctx.fillText('Absolute Temperature  [\u00B0C]', 0, 0);
        ctx.restore();

        legendRows.forEach((row, i) => {
            const yy = a.top + 57 + i * 62;
            ctx.save();
            ctx.strokeStyle = row.color;
            ctx.lineWidth = row.width;
            ctx.beginPath();
            ctx.moveTo(a.left + 29, yy);
            ctx.lineTo(a.left + 117, yy);
            ctx.stroke();
            ctx.restore();
            narrowText(ctx, row.text, a.left + 129, yy + 17, 50, 0.78, 'left');
        });
    }
};

new Chart(document.getElementById('tempChart'), {
    type: 'line',
    data: { datasets: datasets },
    options: {
        responsive: false,
        animation: false,
        events: [],
        layout: { padding: { top: 98, left: 0, right: 0, bottom: 0 } },
        plugins: {
            legend: { display: false },
            tooltip: { enabled: false },
            title: { display: false }
        },
        scales: {
            x: {
                type: 'linear',
                min: xTicks.min,
                max: xTicks.max,
                afterFit: s => { s.height = 71; },
                grid: { display: false, drawTicks: false },
                border: { display: false },
                ticks: { stepSize: xTicks.step, includeBounds: false, autoSkip: false, display: false }
            },
            y: {
                type: 'linear',
                min: yTicks.min,
                max: yTicks.max,
                afterFit: s => { s.width = 128; },
                grid: { display: false, drawTicks: false },
                border: { display: false },
                ticks: { stepSize: yTicks.step, includeBounds: false, display: false }
            }
        }
    },
    plugins: [boxAxes, lettering]
});
</script>
</body>
</html>
